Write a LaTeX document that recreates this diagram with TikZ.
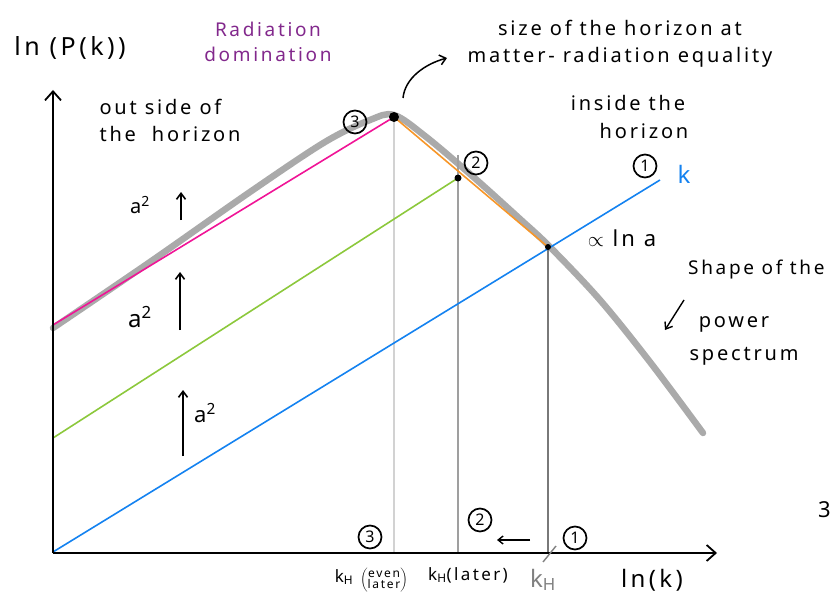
\documentclass[tikz,border=0pt]{standalone}
\usepackage{fontspec}
\setmainfont[LetterSpace=14]{Noto Sans}
\usetikzlibrary{arrows.meta}
\definecolor{kblue}{RGB}{20,130,240}
\definecolor{kgreen}{RGB}{140,200,60}
\definecolor{kmag}{RGB}{240,20,150}
\definecolor{korange}{RGB}{247,150,40}
\definecolor{kpurple}{RGB}{130,40,140}
\definecolor{curvegray}{RGB}{170,170,170}
\tikzset{
  hand/.style={font=\fontsize{20}{27}\selectfont, align=center, inner sep=0pt},
  circnum/.style={circle, draw, line width=1.7pt, inner sep=0pt, minimum size=23pt, font=\fontsize{16}{16}\selectfont},
  axis/.style={line width=2.2pt, -{Straight Barb[length=9pt, width=16pt, line width=1.8pt]}},
  upar/.style={line width=1.6pt, -{Straight Barb[length=6pt, width=9pt]}},
  dot/.style={circle, fill=black, inner sep=0pt},
  spec/.style={line width=1.6pt}
}
\begin{document}
\begin{tikzpicture}[x=1pt, y=-1pt]
\useasboundingbox (0,0) rectangle (830,607);
% coordinates
\coordinate (O) at (53,553);
\coordinate (ytop) at (53,90);
\coordinate (xend) at (717,553);
\coordinate (bl0) at (53,552);
\coordinate (bl1) at (660,180);
\coordinate (gr0) at (53,438);
\coordinate (mg0) at (53,325);
\coordinate (peak) at (394,117);
\coordinate (p2) at (458,178);
\coordinate (p1) at (548,247);
\coordinate (v3b) at (394,553);
\coordinate (v2t) at (458,155);
\coordinate (v2b) at (458,553);
\coordinate (v1b) at (548,553);
% gray power spectrum curve
\draw[curvegray, line width=6.5pt, line cap=round]
  plot[smooth, tension=0.55] coordinates {(53,328) (150,262) (250,192) (325,142) (370,120) (394,115) (425,136) (470,174) (520,219) (550,247) (600,300) (650,362) (703,433)};
% vertical lines
\draw[gray!35, line width=1.6pt] (peak) -- (v3b);
\draw[gray!75, line width=1.6pt] (v2t) -- (v2b);
\draw[gray!95!black, line width=1.6pt] (p1) -- (v1b);
% spectra lines
\draw[kblue, spec] (bl0) -- (bl1);
\draw[kgreen, spec] (gr0) -- (p2);
\draw[kmag, spec] (mg0) -- (peak);
\draw[korange, spec] (peak) -- (p1);
% axes
\draw[axis] (O) -- (ytop);
\draw[axis] (O) -- (xend);
% dots
\node[dot, minimum size=10pt] (d3) at (peak) {};
\node[dot, minimum size=7pt] (d2) at (p2) {};
\node[dot, minimum size=6pt] (d1) at (p1) {};
% labels
\node[hand, font=\fontsize{25}{28}\selectfont] (ylab) at (70,48) {ln (P(k))};
\node[hand, text=kpurple, font=\fontsize{19}{25}\selectfont] (rad) at (268,42) {Radiation\\domination};
\node[hand] (size) at (620,44) {size of the horizon at\\matter- radiation equality};
\coordinate (sa) at (403,98);
\coordinate (sb) at (447,58);
\draw[line width=1.5pt, -{Straight Barb[length=6pt, width=10pt]}] (sa) .. controls (405,78) and (425,64) .. (sb);
\node[hand, align=left] (outs) at (170,120) {out side of\\the \ horizon};
\node[hand] (ins1) at (628,103) {inside the};
\node[hand] (ins2) at (644,131) {horizon};
% circled numbers
\node[circnum] (c3) at (355,122) {3};
\node[circnum] (c2) at (476,163) {2};
\node[circnum] (c1) at (645,166) {1};
\node[hand, text=kblue, font=\fontsize{24}{24}\selectfont] (klab) at (684,174) {k};
\node[hand, font=\fontsize{22}{24}\selectfont] (prop) at (622,238) {$\propto$ ln a};
% shape of the power spectrum
\node[hand, anchor=west, font=\fontsize{19}{25}\selectfont] (sh1) at (688,270) {Shape of the};
\node[hand] (sh2) at (734,324) {power};
\node[hand] (sh3) at (744,356) {spectrum};
\coordinate (sha) at (684,300);
\coordinate (shb) at (665,330);
\draw[line width=1.4pt, -{Straight Barb[length=6pt, width=9pt]}] (sha) -- (shb);
% a^2 arrows
\node[hand] (a1) at (140,205) {a\textsuperscript{2}};
\coordinate (a1b) at (181,220); \coordinate (a1t) at (181,192);
\draw[upar] (a1b) -- (a1t);
\node[hand, font=\fontsize{24}{24}\selectfont] (a2) at (140,317) {a\textsuperscript{2}};
\coordinate (a2b) at (180,330); \coordinate (a2t) at (180,272);
\draw[upar] (a2b) -- (a2t);
\node[hand, font=\fontsize{22}{22}\selectfont] (a3) at (205,413) {a\textsuperscript{2}};
\coordinate (a3b) at (183,456); \coordinate (a3t) at (183,390);
\draw[upar] (a3b) -- (a3t);
% bottom circled numbers and arrow
\node[circnum] (b3) at (370,537) {3};
\node[circnum] (b2) at (480,520) {2};
\node[circnum] (b1) at (575,538) {1};
\coordinate (ba) at (530,540); \coordinate (bb) at (497,540);
\draw[line width=1.4pt, -{Straight Barb[length=5pt, width=8pt]}] (ba) -- (bb);
% tick
\coordinate (ta) at (543,562); \coordinate (tb) at (556,546);
\draw[gray, line width=1.4pt] (ta) -- (tb);
% x labels
\node[hand, font=\fontsize{17}{18}\selectfont] (kh3) at (344,577) {k\textsubscript{H}};
\node[hand, font=\fontsize{12}{12}\selectfont] (kh3b) at (384,580) {$\left(\vcenter{\hbox{\fontsize{12}{13}\selectfont\begin{tabular}{@{}c@{}}even\\[-2pt]later\end{tabular}}}\right)$};
\node[hand, font=\fontsize{17}{18}\selectfont] (kh2) at (468,575) {k\textsubscript{H}(later)};
\node[hand, text=gray, font=\fontsize{24}{24}\selectfont] (kh1) at (543,580) {k\textsubscript{H}};
\node[hand, font=\fontsize{24}{24}\selectfont] (xlab) at (652,580) {ln(k)};
\node[hand, anchor=west, font=\fontsize{22}{22}\selectfont] (edge3) at (818,510) {3};
\end{tikzpicture}
\end{document}
